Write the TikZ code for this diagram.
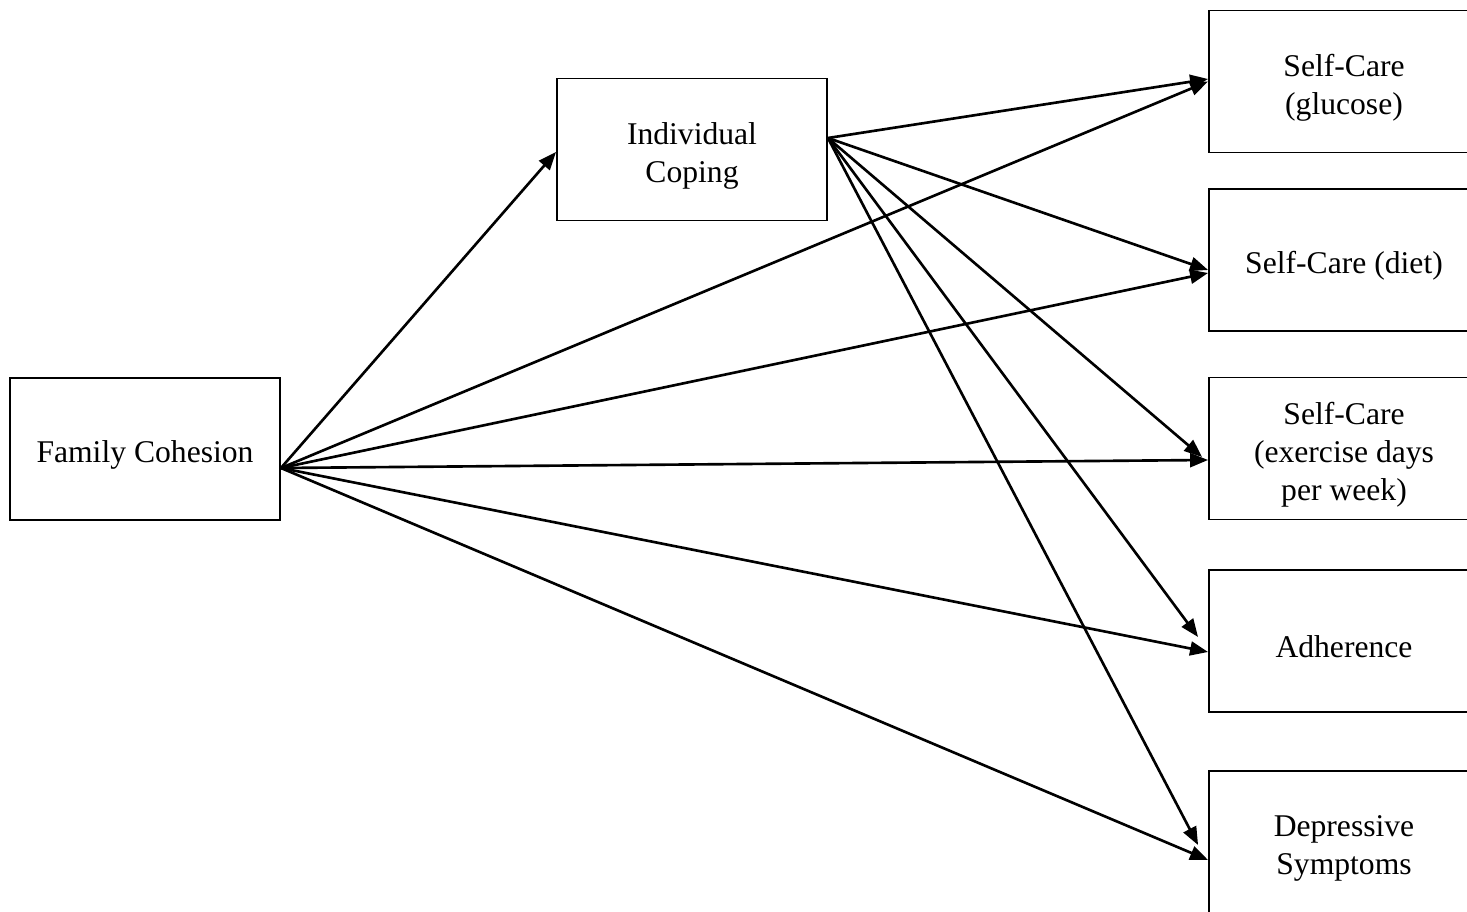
\documentclass[tikz,border=0pt]{standalone}
\usepackage{fontspec}
\setmainfont{Liberation Serif}
\usepackage{tikz}
\usetikzlibrary{arrows.meta}

\newcommand{\topgap}{\rule{0pt}{19.5pt}}

\begin{document}
\begin{tikzpicture}[x=0.02cm, y=-0.02cm,
        box/.style={rectangle, draw, line width=1.1pt, minimum width=5.4cm, minimum height=2.84cm,
                    align=center, inner sep=0pt, font=\fontsize{18}{21.6}\selectfont},
        arr/.style={-{Triangle[length=0.36cm, width=0.28cm]}, line width=1.5pt}]
        \useasboundingbox (0, 0) rectangle (1467, 912);

        \node[box] at (145, 449)    (fc)  {\topgap Family Cohesion};
        \node[box] at (692, 149.5)  (ic)  {\topgap Individual\\Coping};
        \node[box] at (1344, 81.5)  (glu) {\topgap Self-Care\\(glucose)};
        \node[box] at (1344, 260)   (diet) {\topgap Self-Care (diet)};
        \node[box] at (1344, 448.5) (ex)  {\topgap Self-Care\\(exercise days\\per week)};
        \node[box] at (1344, 641)   (adh) {\topgap Adherence};
        \node[box] at (1344, 842)   (dep) {\topgap Depressive\\Symptoms};

        \draw [arr] ([yshift=-0.38cm]fc.east) -- ([yshift=-0.05cm]ic.west);
        \draw [arr] ([yshift=-0.38cm]fc.east) -- (glu.west);
        \draw [arr] ([yshift=-0.38cm]fc.east) -- ([yshift=-0.26cm]diet.west);
        \draw [arr] ([yshift=-0.38cm]fc.east) -- ([yshift=-0.23cm]ex.west);
        \draw [arr] ([yshift=-0.38cm]fc.east) -- ([yshift=-0.22cm]adh.west);
        \draw [arr] ([yshift=-0.38cm]fc.east) -- ([yshift=-0.36cm]dep.west);

        \draw [arr] ([yshift=0.23cm]ic.east) -- ([yshift=0.05cm]glu.west);
        \draw [arr] ([yshift=0.23cm]ic.east) -- ([yshift=-0.2cm]diet.west);
        \draw [arr] ([yshift=0.23cm]ic.east) -- ([shift={(-0.12cm,-0.17cm)}]ex.west);
        \draw [arr] ([yshift=0.23cm]ic.east) -- ([shift={(-0.2cm,0.08cm)}]adh.west);
        \draw [arr] ([yshift=0.23cm]ic.east) -- ([shift={(-0.2cm,-0.06cm)}]dep.west);
    \end{tikzpicture}
\end{document}
